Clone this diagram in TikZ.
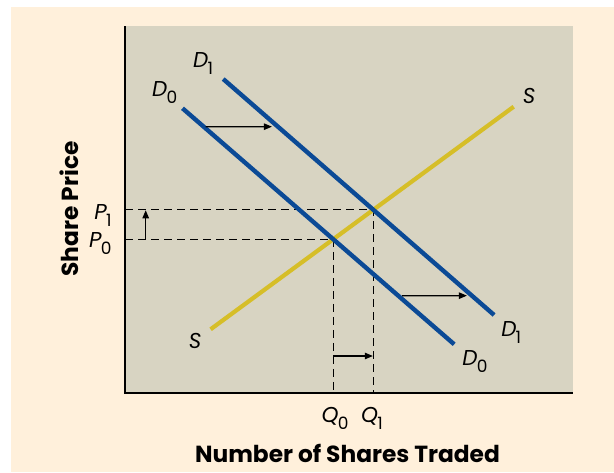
\documentclass[tikz,border=0pt]{standalone}
\usepackage{fontspec}
\setmainfont{Poppins}
\usepackage{tikz}
\usetikzlibrary{arrows.meta,positioning,calc}

\definecolor{paper}{RGB}{255,240,219}
\definecolor{panel}{RGB}{216,212,194}
\definecolor{demand}{RGB}{11,74,150}
\definecolor{supply}{RGB}{214,190,40}

\newcommand{\curvelbl}[2]{\textit{#1}\kern-0.8pt\raisebox{-7pt}{\fontsize{17}{17}\selectfont #2}}

\begin{document}
\begin{tikzpicture}[
    x=1pt,y=-1pt,
    axis/.style={line width=2.4pt},
    dcurve/.style={demand, line width=4.4pt},
    scurve/.style={supply, line width=4.2pt},
    guide/.style={line width=1.2pt, dash pattern=on 8pt off 5pt},
    shiftarrow/.style={-{Triangle[length=8pt,width=6.5pt]}, line width=1.2pt},
    lbl/.style={font=\fontsize{21.5}{21.5}\selectfont, inner sep=0pt},
    title/.style={font=\fontsize{23.3}{23.3}\selectfont\bfseries, inner sep=0pt}
]
\useasboundingbox (0,0) rectangle (614,472);

% Panels
\fill[paper] (11,7) rectangle (614,472);
\fill[panel] (125,26) rectangle (573,393);

% Curve end points
\coordinate (D0a) at (182.5,108.3);
\coordinate (D0b) at (454.2,344.3);
\coordinate (D1a) at (223.2,79);
\coordinate (D1b) at (494.1,315);
\coordinate (Sa)  at (210.6,329.3);
\coordinate (Sb)  at (513.7,106.7);
\coordinate (E0) at (intersection of D0a--D0b and Sa--Sb);
\coordinate (E1) at (intersection of D1a--D1b and Sa--Sb);

% Axes
\coordinate (O)    at (125,393);
\coordinate (Ytop) at (125,26);
\coordinate (Xend) at (573,393);

% Guide lines
\draw[guide] (O |- E0) -- (E0) -- (E0 |- O);
\draw[guide] (O |- E1) -- (E1) -- (E1 |- O);

% Curves
\draw[scurve] (Sa) -- (Sb);
\draw[dcurve] (D0a) -- (D0b);
\draw[dcurve] (D1a) -- (D1b);

\draw[axis] (Ytop) -- (O) -- (Xend);

% Shifts
\coordinate (U0) at ($(D0a)!0.078!(D0b)$);
\coordinate (U1) at ($(D1a)!0.202!(D1b)$);
\coordinate (L0) at ($(D0a)!0.794!(D0b)$);
\coordinate (L1) at ($(D1a)!0.918!(D1b)$);
\draw[shiftarrow, shorten <=2pt, shorten >=6pt] (U0) -- (U1);
\draw[shiftarrow, shorten <=4pt, shorten >=5pt] (L0) -- (L1);

\coordinate (Qa) at ($(E0 |- O)+(0,-37)$);
\coordinate (Qb) at (E1 |- Qa);
\draw[shiftarrow, shorten >=0.5pt] (Qa) -- (Qb);
\coordinate (Pa) at ($(O |- E0)+(20.7,0)$);
\coordinate (Pb) at (Pa |- E1);
\draw[shiftarrow, shorten >=0.5pt] (Pa) -- (Pb);

% Curve labels
\node[lbl, above left=4.7pt and 10pt of D1a] (lD1a) {\curvelbl{D}{1}};
\node[lbl, above left=5pt and 5pt of D0a]    (lD0a) {\curvelbl{D}{0}};
\node[lbl, above right=3pt and 9pt of Sb]    (lSb)  {\textit{S}};
\node[lbl, below left=4pt and 9pt of Sa]     (lSa)  {\textit{S}};
\node[lbl, below right=6.7pt and 7pt of D1b] (lD1b) {\curvelbl{D}{1}};
\node[lbl, below right=5.7pt and 8pt of D0b] (lD0b) {\curvelbl{D}{0}};

% Axis labels
\node[lbl, anchor=north east, xshift=-13.3pt, yshift=5.3pt] (lP1) at (O |- E1) {\curvelbl{P}{1}};
\node[lbl, anchor=north east, xshift=-13.3pt, yshift=7pt]   (lP0) at (O |- E0) {\curvelbl{P}{0}};
\node[lbl, anchor=north west, xshift=-11.7pt, yshift=-14.3pt] (lQ0) at (E0 |- O) {\curvelbl{Q}{0}};
\node[lbl, anchor=north west, xshift=-12.4pt, yshift=-14.3pt] (lQ1) at (E1 |- O) {\curvelbl{Q}{1}};

\node[title] (xtitle) at (347.5,453) {Number of Shares Traded};
\node[title, rotate=90] (ytitle) at (69.5,209) {Share Price};
\end{tikzpicture}
\end{document}
